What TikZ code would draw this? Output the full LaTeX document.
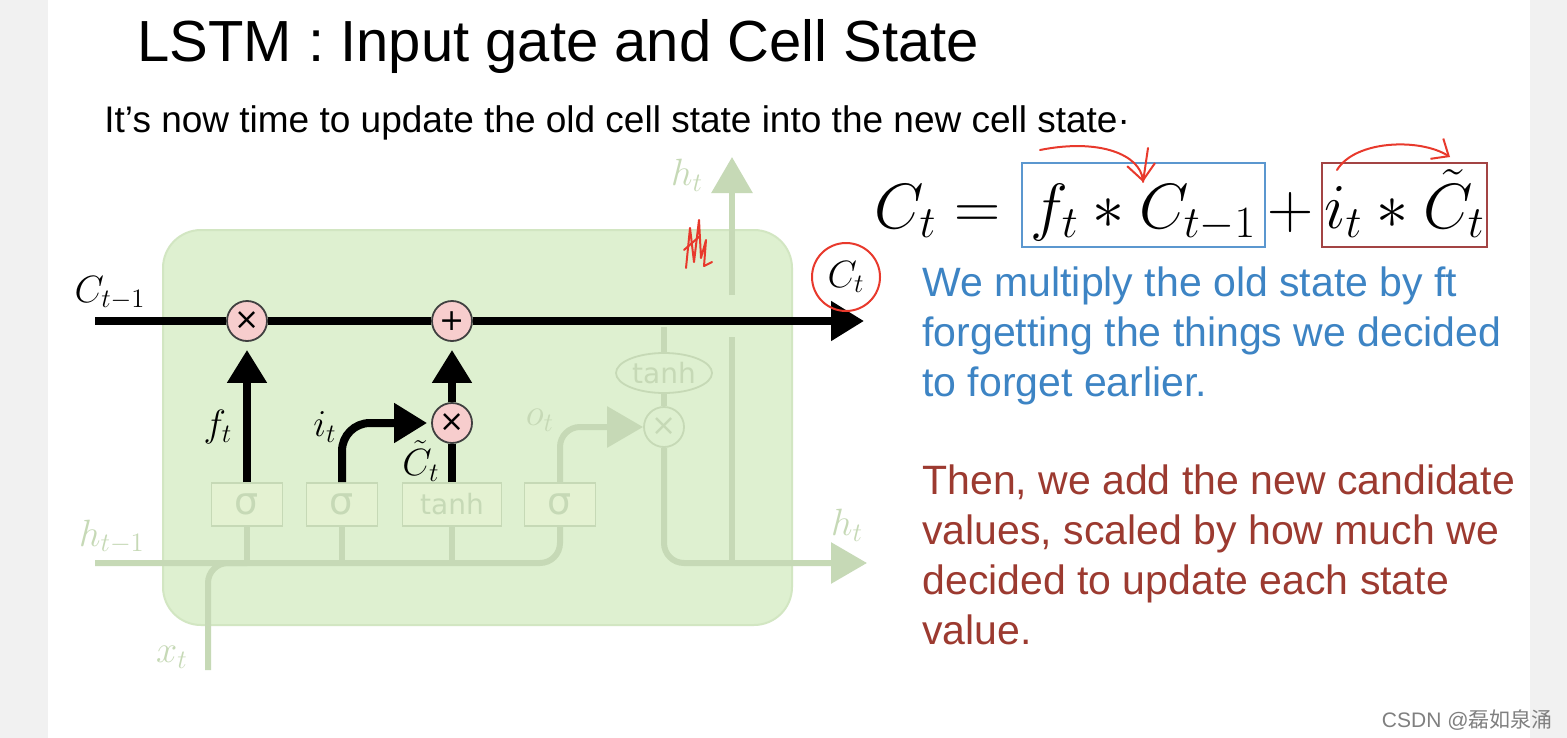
\documentclass[tikz,border=0pt]{standalone}
\usepackage{fix-cm}
\usepackage{fontspec}
\setsansfont{Liberation Sans}
\newfontfamily\gatefont{DejaVu Sans}
\newfontfamily\cjkfont{Noto Sans CJK SC}
\usetikzlibrary{arrows.meta,positioning,shapes.geometric}
\definecolor{CellGreen}{HTML}{DEF0D0}
\definecolor{CellEdge}{HTML}{D2E6C2}
\definecolor{FadeGreen}{HTML}{C6D9B6}
\definecolor{GateFill}{HTML}{E4F2D2}
\definecolor{OpPink}{HTML}{F7CDCD}
\definecolor{NoteBlue}{HTML}{3D84C4}
\definecolor{NoteRed}{HTML}{9C3A30}
\definecolor{BoxBlue}{HTML}{5B97CF}
\definecolor{BoxRed}{HTML}{A34444}
\definecolor{HandRed}{HTML}{E8392C}
\definecolor{EdgeGray}{HTML}{F1F1F1}

\begin{document}
\begin{tikzpicture}[x=0.5pt,y=-0.5pt,font=\sffamily,
  gate/.style={draw=FadeGreen,line width=0.8pt,fill=GateFill,minimum width=35.5pt,minimum height=21.5pt,inner sep=0pt,text=FadeGreen,font=\gatefont\fontsize{19}{19}\selectfont},
  op/.style={circle,draw=black!75,line width=0.9pt,fill=OpPink,minimum size=20pt,inner sep=0pt,font=\gatefont\fontsize{15}{15}\selectfont},
  fop/.style={op,draw=FadeGreen,fill=CellGreen,text=FadeGreen},
  flow/.style={line width=4pt,-{Triangle[length=16.5pt,width=19pt]}},
  fline/.style={draw=FadeGreen,line width=3pt},
  farrow/.style={fline,-{Triangle[length=18pt,width=20pt]}},
  lbl/.style={inner sep=0pt,font=\fontsize{19}{19}\selectfont},
  flbl/.style={lbl,text=FadeGreen},
  eq/.style={inner xsep=1pt,inner ysep=0pt,text height=32.5pt,text depth=9.5pt,font=\fontsize{32}{32}\selectfont},
  note/.style={anchor=north west,inner sep=0pt,align=left,font=\sffamily\fontsize{20.5}{25}\selectfont},
  hand/.style={draw=HandRed,line width=1pt,line cap=round,line join=round}]
  % slide
  \fill[EdgeGray] (0,0) rectangle (1567,738);
  \fill[white] (48,0) rectangle (1530,738);
  \useasboundingbox (0,0) rectangle (1567,738);
  \node[anchor=base west,inner sep=0pt,font=\sffamily\fontsize{29}{29}\selectfont] (title) at (137,62) {LSTM : Input gate and Cell State};
  \node[anchor=base west,inner sep=0pt,font=\sffamily\fontsize{18.5}{18.5}\selectfont] (lead) at (104,133) {It’s now time to update the old cell state into the new cell state·};

  % cell
  \draw[fill=CellGreen,draw=CellEdge,line width=1pt,rounded corners=19pt] (163,230) rectangle (792,625);
  \node[gate] (gf) at (247,504.5) {σ};
  \node[gate] (gi) at (342,504.5) {σ};
  \node[gate,minimum width=49.5pt,font=\gatefont\fontsize{14}{14}\selectfont] (gc) at (452,504.5) {tanh};
  \node[gate] (go) at (560,504.5) {σ};
  \node[op] (mf) at (247,321) {×};
  \node[op] (ac) at (452,321) {+};
  \node[op] (mc) at (452,423) {×};
  \node[fop] (mo) at (664,427) {×};
  \node[ellipse,draw=FadeGreen,line width=0.9pt,fill=CellGreen,minimum width=48pt,minimum height=20pt,inner sep=0pt,text=FadeGreen,font=\gatefont\fontsize{14}{14}\selectfont] (th) at (664,373) {tanh};
  \coordinate (cin) at (95,321);
  \coordinate (cout) at (864,321);
  \coordinate (hin) at (95,563);
  \coordinate (hout) at (867,563);
  \coordinate (xin) at (208,670);
  \coordinate (tap) at (664,327);
  \coordinate (hlo) at (732,337);
  \coordinate (hhi) at (732,295);
  \coordinate (htop) at (732,157);

  % faded part
  \draw[fline,rounded corners=10pt] (hin) -| (go.south);
  \draw[fline] (gf.south) -- (gf.south |- hin);
  \draw[fline] (gi.south) -- (gi.south |- hin);
  \draw[fline] (gc.south) -- (gc.south |- hin);
  \draw[fline,rounded corners=10pt] (xin) |- (gf.south |- hin);
  \draw[fline] (tap) -- (th.north);
  \draw[fline] (th.south) -- (mo.north);
  \draw[farrow,rounded corners=10pt] (go.north) |- (mo.west);
  \draw[farrow,rounded corners=10pt] (mo.south) |- (hout);
  \draw[fline] (hlo) -- (hlo |- hout);
  \draw[farrow] (hhi) -- (htop);

  % cell state and input gate
  \draw[line width=4pt] (cin) -- (mf);
  \draw[line width=4pt] (mf) -- (ac);
  \draw[flow] (ac) -- (cout);
  \draw[flow,shorten >=4pt] (gf) -- (mf);
  \draw[flow,rounded corners=14pt,shorten >=2pt] (gi.north) |- (mc.west);
  \draw[line width=4pt] (gc) -- (mc);
  \draw[flow,shorten >=4pt] (mc) -- (ac);

  \node[lbl] (lcprev) at (110,293) {$C_{t-1}$};
  \node[lbl] (lf) at (218,427) {$f_t$};
  \node[lbl] (li) at (325,427) {$i_t$};
  \node[lbl] (lct) at (421,461) {$\tilde{C}_t$};
  \node[flbl] (lhprev) at (112,537) {$h_{t-1}$};
  \node[flbl] (lx) at (172,657) {$x_t$};
  \node[flbl] (lo) at (540,420) {$o_t$};
  \node[flbl] (lhtop) at (687,175) {$h_t$};
  \node[flbl] (lhout) at (847,525) {$h_t$};
  \node[lbl,circle,draw=HandRed,line width=1pt,minimum size=34pt] (lcout) at (846,277) {$C_t$};

  % equation
  \node[eq,draw=BoxBlue,line width=1.2pt,minimum width=121.5pt] (eqf) at (1143.5,205) {$f_t * C_{t-1}$};
  \node[eq,left=9pt of eqf] (eql) {$C_t =$};
  \node[eq] (eqp) at (1291,205) {$+$};
  \node[eq,draw=BoxRed,line width=1.2pt,minimum width=82.5pt] (eqi) at (1404.5,205) {$i_t * \tilde{C}_t$};

  \node[note,text=NoteBlue] (noteblue) at (922,266) {We multiply the old state by ft\\forgetting the things we decided\\to forget earlier.};
  \node[note,text=NoteRed] (notered) at (922,464) {Then, we add the new candidate\\values, scaled by how much we\\decided to update each state\\value.};

  % pen marks
  \coordinate (fa0) at (1040,150);
  \coordinate (fa1) at (1143,182);
  \coordinate (fa2) at (1148,148);
  \coordinate (ia0) at (1337,170);
  \coordinate (ia1) at (1450,157);
  \draw[hand,-{Straight Barb[length=8pt,width=14pt]}] (fa0) .. controls (1100,138) and (1140,155) .. (fa1);
  \draw[hand] (fa2) -- (fa1);
  \draw[hand,-{Straight Barb[length=7pt,width=12pt]}] (ia0) .. controls (1355,140) and (1420,138) .. (ia1);
  \draw[hand] (686,268) -- (690,228) -- (694,262) -- (699,220) -- (701,258) -- (706,240) -- (704,266) -- (712,262);
  \draw[hand] (684,250) -- (700,236);

  \node[anchor=base east,inner sep=0pt,text=black!50,font=\sffamily\fontsize{10.5}{10.5}\selectfont] (mark) at (1553,727) {CSDN @{\cjkfont 磊如泉涌}};
\end{tikzpicture}
\end{document}
